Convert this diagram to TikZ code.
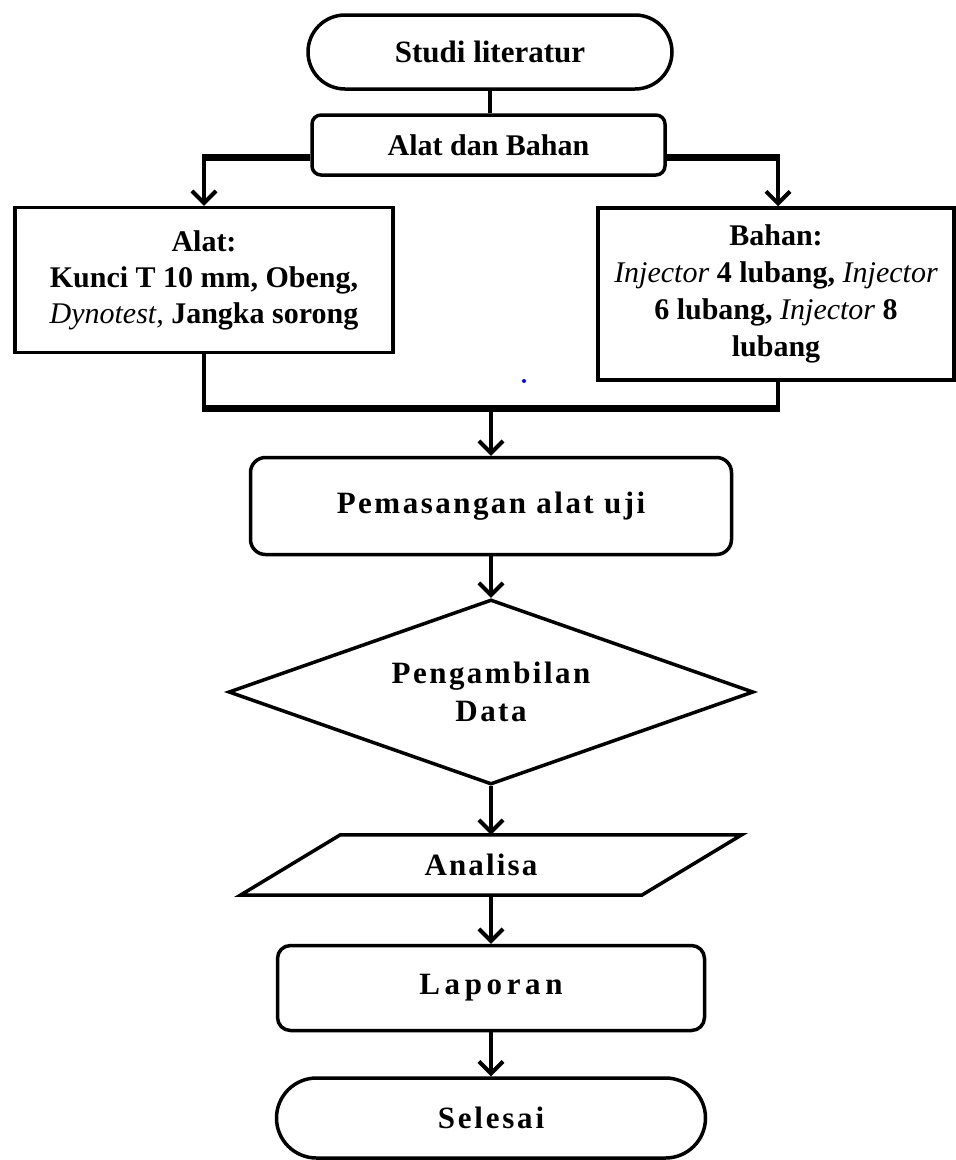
\documentclass[tikz,border=0pt]{standalone}
\usepackage{fontspec}
\setmainfont{Liberation Serif}
\usetikzlibrary{arrows.meta,shapes.geometric,shapes.misc}
\begin{document}
\begin{tikzpicture}[x=1pt,y=-1pt,
  box/.style={draw,line width=3.5pt,font=\fontsize{30}{36}\selectfont\bfseries,align=center,inner sep=0pt},
  rbox/.style={box,rounded corners=#1},
  sp/.style={font=\fontsize{31}{38}\selectfont\bfseries\addfontfeatures{LetterSpace=#1}},
  conn/.style={line width=4pt},
  arr/.style={conn,-{Straight Barb[length=12pt,width=24pt]}},
  thickln/.style={line width=7pt}]
\useasboundingbox (0,0) rectangle (956,1160);

\node[box,rounded rectangle,minimum width=364pt,minimum height=74pt,font=\fontsize{31}{36}\selectfont\bfseries] (studi) at (490,52) {Studi literatur};
\node[rbox=9pt,minimum width=353pt,minimum height=60pt] (ab) at (488.5,145) {Alat dan Bahan};
\node[box,minimum width=378pt,minimum height=145pt] (alat) at (204,280) {Alat:\\Kunci T 10 mm, Obeng,\\\textit{\mdseries Dynotest,} Jangka sorong};
\node[box,minimum width=356pt,minimum height=172pt,font=\fontsize{30}{37}\selectfont\bfseries] (bahan) at (776,294) {Bahan:\\\textit{\mdseries Injector} 4 lubang, \textit{\mdseries Injector}\\6 lubang, \textit{\mdseries Injector} 8\\lubang};
\node[rbox=15pt,minimum width=481pt,minimum height=97pt,sp=8] (pem) at (491,506) {Pemasangan alat uji};
\node[box,diamond,aspect=2.84,minimum width=525pt,minimum height=185pt,sp=8] (dat) at (491,692) {Pengambilan\\Data};
\node[inner sep=0pt,minimum width=401pt,minimum height=60pt,sp=7] (ana) at (491,865) {Analisa\hspace*{20pt}};
\draw[line width=3.5pt,line join=miter] ([xshift=50pt]ana.north west) -- ([xshift=50pt]ana.north east) -- ([xshift=-50pt]ana.south east) -- ([xshift=-50pt]ana.south west) -- cycle;
\node[rbox=13pt,minimum width=427pt,minimum height=85pt,sp=15] (lap) at (491,988) {Laporan};
\node[box,rounded rectangle,minimum width=429pt,minimum height=80pt,sp=9] (sel) at (491,1118) {Selesai};

% connectors
\draw[conn] (studi.south) -- (studi.south |- ab.north);
\coordinate (bl) at (204,157);
\coordinate (blt) at (202,157);
\coordinate (br) at (778,157);
\coordinate (brt) at (780,157);
\draw[thickln] (ab.west |- bl) -- (blt);
\draw[thickln] (ab.east |- br) -- (brt);
\draw[arr] ([yshift=3pt]bl) -- (bl |- alat.north);
\draw[arr] ([yshift=3pt]br) -- (br |- bahan.north);

\coordinate (m) at (491,408);
\coordinate (ml) at (202,408);
\coordinate (mr) at (780,408);
\draw[conn] (alat.south) -- (alat.south |- m);
\draw[conn] (br |- bahan.south) -- (br |- m);
\draw[thickln] (ml) -- (mr);
\draw[arr] (m) -- (m |- pem.north);
\draw[arr] (pem.south) -- (dat.north);
\draw[arr] (dat.south) -- (ana.north);
\draw[arr] (ana.south) -- (lap.north);
\draw[arr] (lap.south) -- (sel.north);

\fill[blue] (524,381) circle (2pt);
\end{tikzpicture}
\end{document}
